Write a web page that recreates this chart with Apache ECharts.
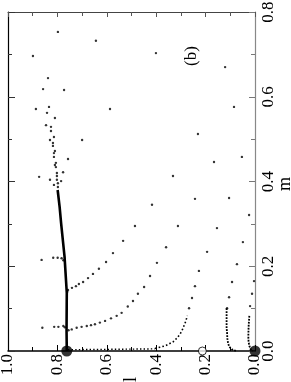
<!DOCTYPE html>
<html>
<head>
<meta charset="utf-8">
<script src="https://cdn.jsdelivr.net/npm/echarts@6/dist/echarts.min.js"></script>
<style>html,body{margin:0;padding:0;background:#fff;}#c{width:291px;height:382px;}</style>
</head>
<body>
<div id="c"></div>
<script>
// axis ticks
const lTicks = [0.0, 0.2, 0.4, 0.6, 0.8, 1.0];
const mTicks = [0.0, 0.2, 0.4, 0.6, 0.8];
const axisNames = {x:'l', y:'m'};
// thick main branch [l, m]
const mainLine = [[0.762,0],[0.763,0.05],[0.762,0.137],[0.771,0.222],[0.785,0.302],[0.791,0.34],[0.799,0.38]];
// dense dotted pieces
const bottomRow = [[0.757,0.003],[0.405,0.005]];
const curveC = [[0.405,0.006],[0.385,0.009],[0.364,0.012],[0.347,0.017],[0.331,0.022],[0.317,0.030],[0.306,0.038],[0.297,0.046],[0.290,0.056],[0.281,0.069],[0.274,0.083]];
const curveD = [[0.115,0.101],[0.115,0.054],[0.113,0.042],[0.112,0.030],[0.109,0.018],[0.104,0.010],[0.094,0.004],[0.077,0]];
const curveE = [[0.023,0.083],[0.026,0.057],[0.027,0.034],[0.026,0.022],[0.023,0.012],[0.017,0.004],[0.009,0]];
// branches leaving the main line
const branchLow = [[0.755,0.049],[0.742,0.051],[0.722,0.055],[0.702,0.057],[0.681,0.059],[0.664,0.061],[0.648,0.063],[0.628,0.067],[0.607,0.071],[0.583,0.077],[0.560,0.083],[0.540,0.090],[0.515,0.105],
  [0.861,0.055],[0.813,0.057],[0.796,0.057],[0.776,0.059],[0.770,0.056]];
const branchMid = [[0.760,0.140],[0.757,0.144],[0.741,0.149],[0.725,0.153],[0.713,0.158],[0.696,0.163],[0.676,0.172],[0.656,0.182],[0.632,0.194],[0.603,0.210]];
const branchHigh = [[0.864,0.215],[0.817,0.220],[0.799,0.220],[0.783,0.219],[0.776,0.214]];
// scattered dots near the top of the main branch
const upperDots = [[0.798,0.387],[0.814,0.392],[0.798,0.396],[0.785,0.401],[0.802,0.404],[0.830,0.404],[0.874,0.411],[0.802,0.413],[0.802,0.420],[0.777,0.422],
  [0.806,0.434],[0.810,0.439],[0.806,0.444],[0.757,0.453],[0.814,0.458],[0.814,0.467],[0.810,0.472],[0.818,0.484],[0.818,0.491],[0.830,0.498],[0.700,0.498],
  [0.814,0.505],[0.826,0.519],[0.826,0.529],[0.846,0.533],[0.810,0.550],[0.842,0.562],[0.834,0.576],[0.887,0.571],[0.587,0.571],[0.773,0.616],[0.858,0.618],
  [0.838,0.644],[0.899,0.696],[0.644,0.732],[0.798,0.753]];
// sparse dots of the other trajectories
const sparseDots = [[0.401,0.703],[0.121,0.670],[0.085,0.576],[0.231,0.512],[0.053,0.458],[0.166,0.446],[0.332,0.413],
  [0.243,0.359],[0.105,0.361],[0.417,0.345],[0.024,0.321],[0.486,0.295],[0.312,0.295],[0.154,0.290],[0.534,0.260],[0.049,0.257],
  [0.360,0.245],[0.575,0.231],[0.194,0.234],[0.397,0.208],[0.227,0.189],[0.073,0.205],[0.425,0.177],[0.243,0.153],[0.093,0.163],
  [0.004,0.165],[0.449,0.151],[0.255,0.125],[0.105,0.127],[0.012,0.135],[0.474,0.135],[0.267,0.101],[0.113,0.101],[0.020,0.106],[0.494,0.118]];
const fixedPoints = [[0.762,0],[0.0,0]];
const openPoint = [[0.213,0.0]];

const font = 'Liberation Serif';
const chart = echarts.init(document.getElementById('c'), null, {renderer:'canvas'});
const fmt = v => Number(v).toFixed(1);
const lineS = (data, w, type) => ({type:'line', data, showSymbol:false, symbol:'none', lineStyle:{color:'#000', width:w, type:type||'solid'}, silent:true, animation:false});
const dotS = (data, s) => ({type:'scatter', data, symbol:'circle', symbolSize:s, itemStyle:{color:'#000'}, silent:true, animation:false});

chart.setOption({
  animation:false,
  backgroundColor:'#fff',
  grid:{left:8, right:36, top:12, bottom:31, containLabel:false, outerBoundsMode:'none'},
  xAxis:[{
    type:'value', min:0, max:1.0, interval:0.2, inverse:true, position:'bottom',
    name:axisNames.x, nameLocation:'middle', nameGap:26, nameRotate:90, nameMoveOverlap:false,
    nameTextStyle:{fontFamily:font, fontSize:18, color:'#000'},
    axisLine:{show:true, onZero:false, lineStyle:{color:'#000', width:1.5}},
    axisTick:{show:true, inside:true, length:6, lineStyle:{color:'#000'}},
    minorTick:{show:true, splitNumber:2, length:4, lineStyle:{color:'#000'}},
    axisLabel:{rotate:90, margin:3, fontFamily:font, fontSize:17, color:'#000', formatter:fmt, showMinLabel:true, showMaxLabel:true},
    splitLine:{show:false}
  },{
    type:'value', min:0, max:1.0, interval:0.2, inverse:true, position:'top',
    axisLine:{show:true, onZero:false, lineStyle:{color:'#444', width:1}},
    axisTick:{show:true, inside:true, length:5, lineStyle:{color:'#555'}},
    minorTick:{show:true, splitNumber:2, length:4, lineStyle:{color:'#555'}},
    axisLabel:{show:false}, splitLine:{show:false}
  }],
  yAxis:[{
    type:'value', min:0, max:0.8, interval:0.2, position:'right',
    axisLine:{show:true, onZero:false, lineStyle:{color:'#888', width:1.2}},
    axisTick:{show:true, inside:true, length:6, lineStyle:{color:'#777'}},
    minorTick:{show:true, splitNumber:2, length:4, lineStyle:{color:'#777'}},
    axisLabel:{rotate:90, margin:5, fontFamily:font, fontSize:17, color:'#000', formatter:fmt, showMinLabel:true, showMaxLabel:true},
    splitLine:{show:false}
  },{
    type:'value', min:0, max:0.8, interval:0.2, position:'left',
    axisLine:{show:true, onZero:false, lineStyle:{color:'#000', width:1.2}},
    axisTick:{show:true, inside:true, length:7, lineStyle:{color:'#333'}},
    minorTick:{show:true, splitNumber:2, length:4, lineStyle:{color:'#333'}},
    axisLabel:{show:false}, splitLine:{show:false}
  }],
  graphic:[{
    type:'text', x:192, y:56, rotation:Math.PI/2,
    style:{text:'(b)', fontFamily:font, fontSize:17, fill:'#000', align:'center', verticalAlign:'middle'}
  },{
    type:'text', x:285, y:184, rotation:Math.PI/2,
    style:{text:axisNames.y, fontFamily:font, fontSize:18, fill:'#000', align:'center', verticalAlign:'middle'}
  }],
  series:[
    lineS(mainLine, 2.6),
    lineS(bottomRow, 1.4, [1.4, 2.2]),
    lineS(curveC, 1.6, [1.6, 2.2]),
    lineS(curveD, 1.8, [1.8, 1.2]),
    lineS(curveE, 1.8, [1.8, 1.2]),
    dotS(branchLow, 2.4),
    dotS(branchMid, 2.4),
    dotS(branchHigh, 2.4),
    dotS(upperDots, 2.4),
    dotS(sparseDots, 2.4),
    {type:'scatter', data:fixedPoints, symbol:'circle', symbolSize:11, itemStyle:{color:'#000'}, z:5, silent:true},
    {type:'scatter', data:openPoint, symbol:'circle', symbolSize:8, itemStyle:{color:'#fff', borderColor:'#000', borderWidth:1}, z:5, silent:true}
  ]
});
</script>
</body>
</html>
